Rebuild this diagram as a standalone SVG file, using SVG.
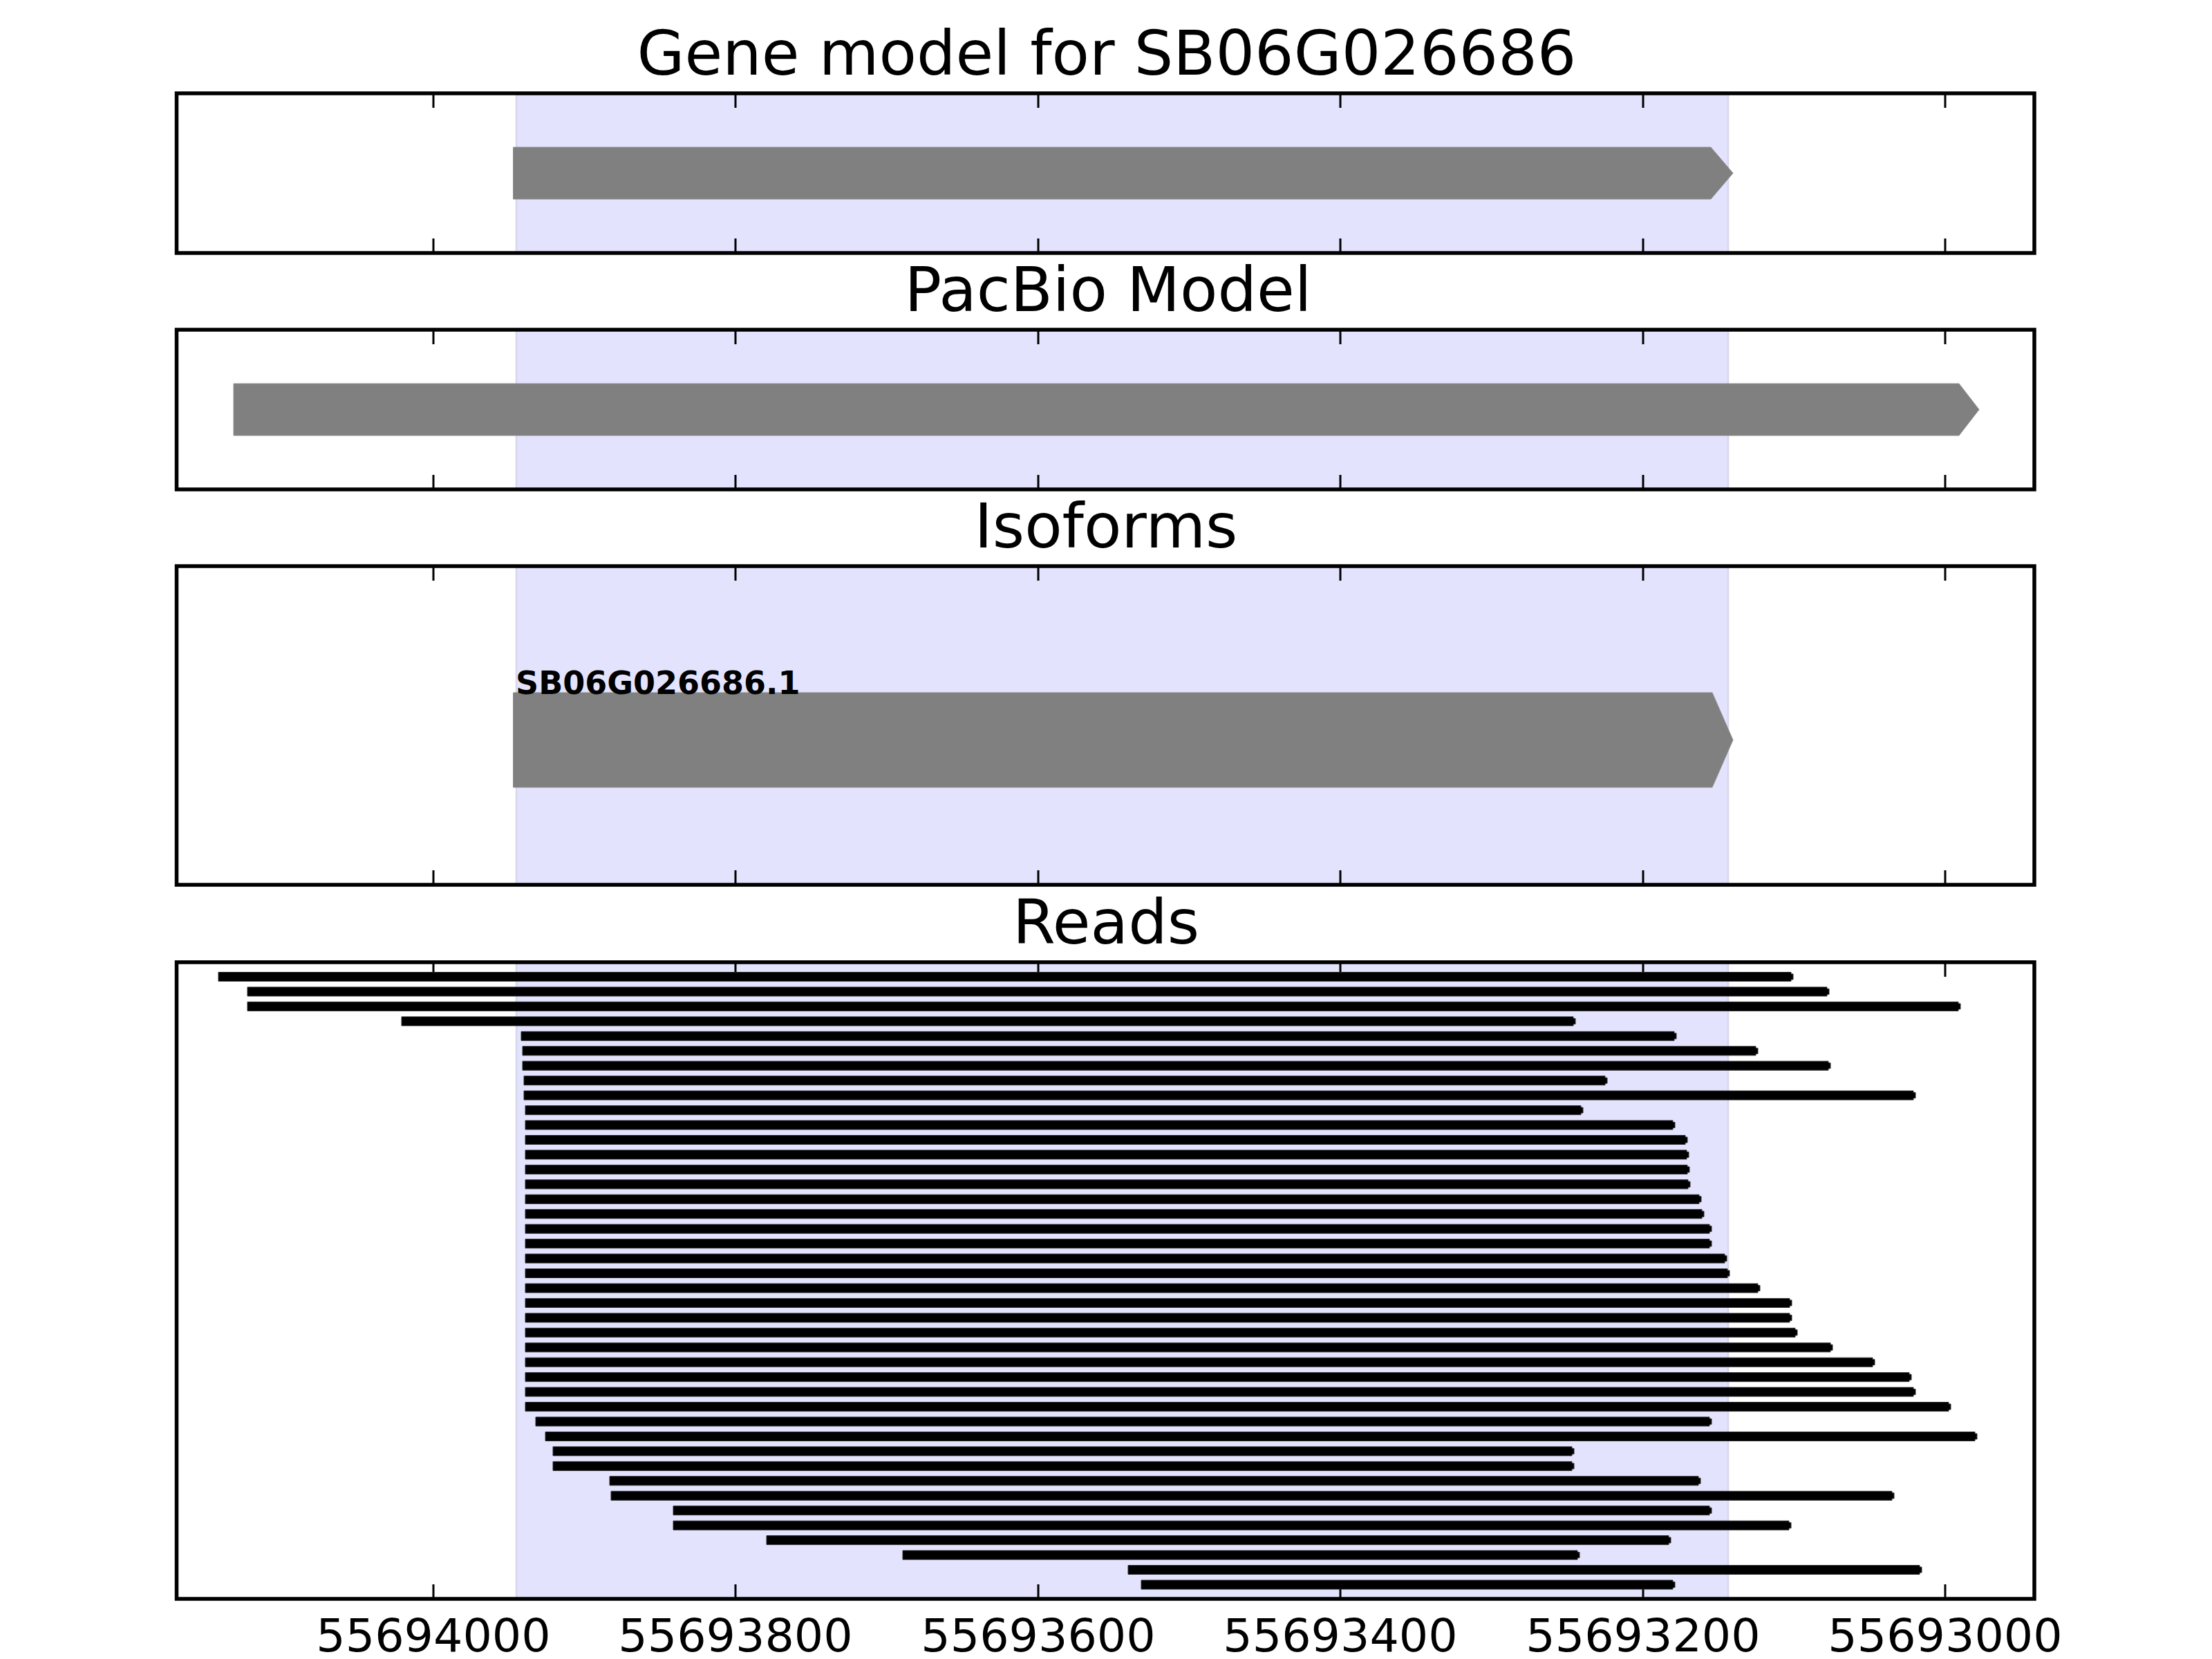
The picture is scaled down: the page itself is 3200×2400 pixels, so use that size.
<svg xmlns="http://www.w3.org/2000/svg" width="3200" height="2400" viewBox="0 0 3200 2400">
<style>
.title{font-family:"DejaVu Sans",sans-serif;font-size:89px;text-anchor:middle;fill:#000}
.tl{font-family:"DejaVu Sans",sans-serif;font-size:66.7px;text-anchor:middle;fill:#000}
.lab{font-family:"DejaVu Sans",sans-serif;font-size:46px;font-weight:bold;fill:#000}
.frame{fill:none;stroke:#000;stroke-width:5.5}
.shade{fill:#e3e3fd}
.shedge{stroke:#d6d6ec;stroke-width:2.5}
.tick{fill:none;stroke:#000;stroke-width:3}
.gene{fill:#808080;stroke:#8c8c8c;stroke-width:1}
.read{fill:#000;stroke:#2a2a2a;stroke-width:1}
</style>
<rect x="0" y="0" width="3200" height="2400" fill="#fff"/>

<g id="panel-gene">
  <text class="title" x="1601" y="108">Gene model for SB06G026686</text>
  <rect class="shade" x="747" y="135" width="1753" height="231"/>
  <path class="shedge" d="M747 135V366M2500 135V366"/>
  <path class="tick" d="M627 135v21M1064 135v21M1502 135v21M1939 135v21M2377 135v21M2814 135v21M627 366v-21M1064 366v-21M1502 366v-21M1939 366v-21M2377 366v-21M2814 366v-21"/>
  <polygon class="gene" points="742.5,213 2475,213 2507,250.5 2475,288 742.5,288"/>
  <rect class="frame" x="255.5" y="135" width="2687.5" height="231"/>
</g>

<g id="panel-pacbio">
  <text class="title" x="1603" y="450">PacBio Model</text>
  <rect class="shade" x="747" y="477" width="1753" height="231"/>
  <path class="shedge" d="M747 477V708M2500 477V708"/>
  <path class="tick" d="M627 477v21M1064 477v21M1502 477v21M1939 477v21M2377 477v21M2814 477v21M627 708v-21M1064 708v-21M1502 708v-21M1939 708v-21M2377 708v-21M2814 708v-21"/>
  <polygon class="gene" points="338,555 2834,555 2863,592.5 2834,630 338,630"/>
  <rect class="frame" x="255.5" y="477" width="2687.5" height="231"/>
</g>

<g id="panel-isoforms">
  <text class="title" x="1600" y="792">Isoforms</text>
  <rect class="shade" x="747" y="819" width="1753" height="461"/>
  <path class="shedge" d="M747 819V1280M2500 819V1280"/>
  <path class="tick" d="M627 819v21M1064 819v21M1502 819v21M1939 819v21M2377 819v21M2814 819v21M627 1280v-21M1064 1280v-21M1502 1280v-21M1939 1280v-21M2377 1280v-21M2814 1280v-21"/>
  <polygon class="gene" points="742.5,1002 2477,1002 2507,1070.5 2477,1139 742.5,1139"/>
  <text class="lab" x="746" y="1004">SB06G026686.1</text>
  <rect class="frame" x="255.5" y="819" width="2687.5" height="461"/>
</g>

<g id="panel-reads">
  <text class="title" x="1600" y="1365">Reads</text>
  <rect class="shade" x="747" y="1392" width="1753" height="921"/>
  <path class="shedge" d="M747 1392V2313M2500 1392V2313"/>
  <path class="tick" d="M627 1392v21M1064 1392v21M1502 1392v21M1939 1392v21M2377 1392v21M2814 1392v21M627 2313v-21M1064 2313v-21M1502 2313v-21M1939 2313v-21M2377 2313v-21M2814 2313v-21"/>
  <g id="reads">
    <path id="read-0" class="read" d="M316 1406.5H2591V1409H2594V1417H2591V1419.5H316Z"/>
    <path id="read-1" class="read" d="M358 1428H2643V1430.5H2646V1438.5H2643V1441H358Z"/>
    <path id="read-2" class="read" d="M358 1449.4H2833V1451.9H2836V1459.9H2833V1462.4H358Z"/>
    <path id="read-3" class="read" d="M581 1470.9H2276V1473.4H2279V1481.4H2276V1483.9H581Z"/>
    <path id="read-4" class="read" d="M754 1492.3H2422V1494.8H2425V1502.8H2422V1505.3H754Z"/>
    <path id="read-5" class="read" d="M756 1513.8H2540V1516.3H2543V1524.3H2540V1526.8H756Z"/>
    <path id="read-6" class="read" d="M756 1535.2H2645V1537.7H2648V1545.7H2645V1548.2H756Z"/>
    <path id="read-7" class="read" d="M758 1556.7H2322V1559.2H2325V1567.2H2322V1569.7H758Z"/>
    <path id="read-8" class="read" d="M758 1578.1H2768V1580.6H2771V1588.6H2768V1591.1H758Z"/>
    <path id="read-9" class="read" d="M760 1599.6H2287V1602.1H2290V1610.1H2287V1612.6H760Z"/>
    <path id="read-10" class="read" d="M760 1621H2420V1623.5H2423V1631.5H2420V1634H760Z"/>
    <path id="read-11" class="read" d="M760 1642.5H2438V1645H2441V1653H2438V1655.5H760Z"/>
    <path id="read-12" class="read" d="M760 1663.9H2440V1666.4H2443V1674.4H2440V1676.9H760Z"/>
    <path id="read-13" class="read" d="M760 1685.4H2441V1687.9H2444V1695.9H2441V1698.4H760Z"/>
    <path id="read-14" class="read" d="M760 1706.8H2442V1709.3H2445V1717.3H2442V1719.8H760Z"/>
    <path id="read-15" class="read" d="M760 1728.3H2458V1730.8H2461V1738.8H2458V1741.3H760Z"/>
    <path id="read-16" class="read" d="M760 1749.7H2462V1752.2H2465V1760.2H2462V1762.7H760Z"/>
    <path id="read-17" class="read" d="M760 1771.2H2473V1773.7H2476V1781.7H2473V1784.2H760Z"/>
    <path id="read-18" class="read" d="M760 1792.6H2473V1795.1H2476V1803.1H2473V1805.6H760Z"/>
    <path id="read-19" class="read" d="M760 1814.1H2495V1816.6H2498V1824.6H2495V1827.1H760Z"/>
    <path id="read-20" class="read" d="M760 1835.5H2499V1838H2502V1846H2499V1848.5H760Z"/>
    <path id="read-21" class="read" d="M760 1857H2543V1859.5H2546V1867.5H2543V1870H760Z"/>
    <path id="read-22" class="read" d="M760 1878.4H2589V1880.9H2592V1888.9H2589V1891.4H760Z"/>
    <path id="read-23" class="read" d="M760 1899.9H2589V1902.4H2592V1910.4H2589V1912.9H760Z"/>
    <path id="read-24" class="read" d="M760 1921.3H2597V1923.8H2600V1931.8H2597V1934.3H760Z"/>
    <path id="read-25" class="read" d="M760 1942.8H2648V1945.3H2651V1953.3H2648V1955.8H760Z"/>
    <path id="read-26" class="read" d="M760 1964.2H2709V1966.7H2712V1974.7H2709V1977.2H760Z"/>
    <path id="read-27" class="read" d="M760 1985.7H2762V1988.2H2765V1996.2H2762V1998.7H760Z"/>
    <path id="read-28" class="read" d="M760 2007.1H2768V2009.6H2771V2017.6H2768V2020.1H760Z"/>
    <path id="read-29" class="read" d="M760 2028.6H2819V2031.1H2822V2039.1H2819V2041.6H760Z"/>
    <path id="read-30" class="read" d="M775 2050H2473V2052.5H2476V2060.5H2473V2063H775Z"/>
    <path id="read-31" class="read" d="M789 2071.5H2857V2074H2860V2082H2857V2084.5H789Z"/>
    <path id="read-32" class="read" d="M800 2092.9H2274V2095.4H2277V2103.4H2274V2105.9H800Z"/>
    <path id="read-33" class="read" d="M800 2114.4H2274V2116.9H2277V2124.9H2274V2127.4H800Z"/>
    <path id="read-34" class="read" d="M882 2135.8H2457V2138.3H2460V2146.3H2457V2148.8H882Z"/>
    <path id="read-35" class="read" d="M884 2157.3H2737V2159.8H2740V2167.8H2737V2170.3H884Z"/>
    <path id="read-36" class="read" d="M974 2178.7H2473V2181.2H2476V2189.2H2473V2191.7H974Z"/>
    <path id="read-37" class="read" d="M974 2200.2H2588V2202.7H2591V2210.7H2588V2213.2H974Z"/>
    <path id="read-38" class="read" d="M1109 2221.6H2414V2224.1H2417V2232.1H2414V2234.6H1109Z"/>
    <path id="read-39" class="read" d="M1306 2243.1H2282V2245.6H2285V2253.6H2282V2256.1H1306Z"/>
    <path id="read-40" class="read" d="M1632 2264.5H2777V2267H2780V2275H2777V2277.5H1632Z"/>
    <path id="read-41" class="read" d="M1651 2286H2420V2288.5H2423V2296.5H2420V2299H1651Z"/>
  </g>
  <rect class="frame" x="255.5" y="1392" width="2687.5" height="921"/>
  <g id="x-axis-labels">
    <text class="tl" x="627" y="2389">55694000</text>
    <text class="tl" x="1064" y="2389">55693800</text>
    <text class="tl" x="1502" y="2389">55693600</text>
    <text class="tl" x="1939" y="2389">55693400</text>
    <text class="tl" x="2377" y="2389">55693200</text>
    <text class="tl" x="2814" y="2389">55693000</text>
  </g>
</g>
</svg>
